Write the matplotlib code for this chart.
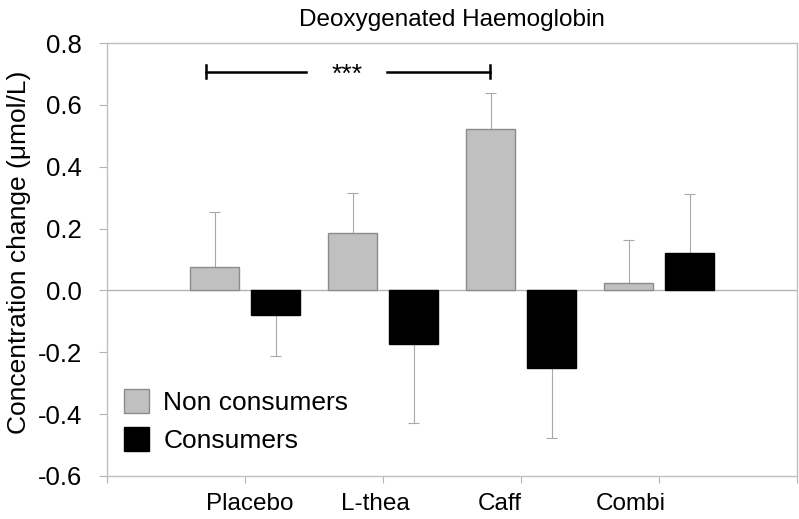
"""
Deoxygenated haemoglobin: concentration change by treatment,
non consumers vs consumers, with one-sided error bars.
"""

import matplotlib
matplotlib.use("Agg")
import matplotlib.pyplot as plt
import numpy as np

plt.rcParams['font.family'] = ['Liberation Sans', 'DejaVu Sans']

# data
categories = ['Placebo', 'L-thea', 'Caff', 'Combi']
non_consumers = [0.075, 0.186, 0.522, 0.023]
non_consumers_err = [0.180, 0.128, 0.115, 0.140]
consumers = [-0.081, -0.173, -0.252, 0.121]
consumers_err = [0.130, 0.257, 0.225, 0.190]
y_ticks = [-0.6, -0.4, -0.2, 0.0, 0.2, 0.4, 0.6, 0.8]


def draw_err(ax, xs, values, errs, cap=0.04):
    # error bar only on the side away from zero, cap at the outer end only
    values = np.asarray(values)
    ends = values + np.sign(values) * np.asarray(errs)
    ax.vlines(xs, values, ends, color='#a8a8a8', lw=0.8, zorder=1)
    ax.hlines(ends, xs - cap, xs + cap, color='#a8a8a8', lw=0.8, zorder=1)


def main():
    fig = plt.figure(figsize=(7.99, 5.19), dpi=100)
    ax = fig.add_axes([0.134, 0.083, 0.864, 0.834])

    x = np.arange(1, len(categories) + 1)
    width = 0.355
    offset = 0.22

    ax.axhline(0, color='#b4b4b4', lw=1.0, zorder=1)

    ax.bar(x - offset, non_consumers, width, color='#c0c0c0', edgecolor='#8c8c8c',
           linewidth=1.0, label='Non consumers', zorder=2)
    ax.bar(x + offset, consumers, width, color='black', edgecolor='black',
           linewidth=1.0, label='Consumers', zorder=2)
    draw_err(ax, x - offset, non_consumers, non_consumers_err)
    draw_err(ax, x + offset, consumers, consumers_err)

    ax.set_xlim(0, len(categories) + 1)
    ax.set_ylim(-0.6, 0.8)
    ax.set_yticks(y_ticks)
    ax.set_yticklabels([f'{t:.1f}' for t in y_ticks])

    # boundary tick marks at 0..5, labels slightly off the group centres
    ax.set_xticks(np.arange(0, len(categories) + 2))
    ax.set_xticklabels([])
    ax.set_xticks([1.035, 1.946, 2.844, 3.79], minor=True)
    ax.set_xticklabels(categories, minor=True)
    ax.tick_params(axis='x', which='major', direction='out', length=5,
                   color='#b4b4b4', width=0.8)
    ax.tick_params(axis='x', which='minor', length=0, pad=12, labelsize=17.5)
    ax.tick_params(axis='y', direction='out', length=6, color='#b4b4b4',
                   width=0.8, pad=12, labelsize=18.5)

    for side in ['left', 'right', 'top', 'bottom']:
        ax.spines[side].set_color('#c0c0c0')
        ax.spines[side].set_linewidth(1.0)

    fig.text(0.024, 1 - 252 / 519, 'Concentration change (μmol/L)', fontsize=19,
             rotation=90, ha='center', va='center')
    ax.set_title('Deoxygenated Haemoglobin', fontsize=17.5, pad=12)

    # significance bracket Placebo -> Caff (non consumers)
    y_br = 0.708
    ax.plot([0.716, 1.44], [y_br, y_br], color='black', lw=1.8)
    ax.plot([2.03, 2.77], [y_br, y_br], color='black', lw=1.8)
    ax.plot([0.716, 0.716], [y_br - 0.022, y_br + 0.022], color='black', lw=1.8)
    ax.plot([2.77, 2.77], [y_br - 0.022, y_br + 0.022], color='black', lw=1.8)
    ax.text(1.737, y_br - 0.012, '***', ha='center', va='center', fontsize=19)

    ax.legend(loc='lower left', bbox_to_anchor=(-0.01, -0.002), frameon=False,
              fontsize=19, handlelength=0.95, handleheight=1.0,
              handletextpad=0.55, labelspacing=0.45, borderaxespad=0.5)

    fig.savefig('out.png', dpi=100)


if __name__ == "__main__":
    main()
